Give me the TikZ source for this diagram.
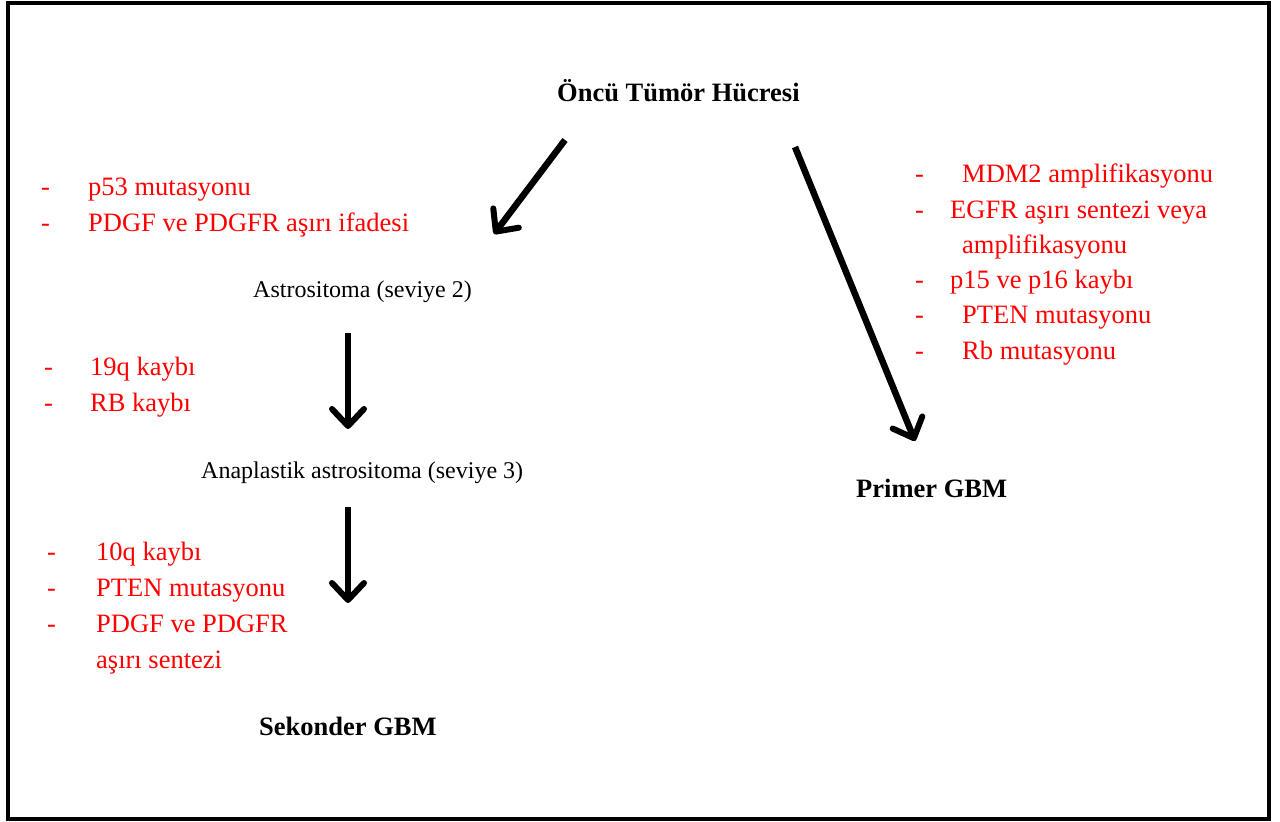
\documentclass[tikz,border=0pt]{standalone}
\usepackage{fontspec}
\setmainfont{Liberation Serif}
\usetikzlibrary{arrows.meta,positioning}

\begin{document}
\begin{tikzpicture}[x=1pt,y=-1pt,inner sep=0pt,
    bigarrow/.style={line width=6.5pt,-{Straight Barb[length=17pt,width=32pt,line width=6pt,round]}},
    headtext/.style={anchor=base west,font=\fontsize{26.5}{30}\selectfont\bfseries},
    stagetext/.style={anchor=base west,font=\fontsize{24}{28}\selectfont},
    genetext/.style={anchor=base west,text=red,font=\fontsize{26.5}{30}\selectfont}]
  \useasboundingbox (0,0) rectangle (1280,822);
  \draw[line width=4pt] (8,3) rectangle (1269,819);

  % main stages
  \node[headtext]  (cell)   at (557,101) {Öncü Tümör Hücresi};
  \node[stagetext] (astro)  at (253,297) {Astrositoma (seviye 2)};
  \node[stagetext] (ana)    at (201,478) {Anaplastik astrositoma (seviye 3)};
  \node[headtext]  (second) at (259,735) {Sekonder GBM};
  \node[headtext]  (primer) at (856,497) {Primer GBM};

  % changes, left side
  \node[genetext] (d1) at (41,195) {-};
  \node[genetext] (p53) at (88,195) {p53 mutasyonu};
  \node[genetext] (d2) at (41,231) {-};
  \node[genetext] (pdgf) at (88,231) {PDGF ve PDGFR aşırı ifadesi};
  \node[genetext] (d3) at (44,375) {-};
  \node[genetext] (q19) at (90,375) {19q kaybı};
  \node[genetext] (d4) at (44,411) {-};
  \node[genetext] (rb) at (90,411) {RB kaybı};
  \node[genetext] (d5) at (47,560) {-};
  \node[genetext] (q10) at (96,560) {10q kaybı};
  \node[genetext] (d6) at (47,596) {-};
  \node[genetext] (pten) at (96,596) {PTEN mutasyonu};
  \node[genetext] (d7) at (47,632) {-};
  \node[genetext] (pdgfb) at (96,632) {PDGF ve PDGFR};
  \node[genetext] (sent) at (96,668) {aşırı sentezi};

  % changes, right side
  \node[genetext] (d8) at (915,182) {-};
  \node[genetext] (mdm) at (962,182) {MDM2 amplifikasyonu};
  \node[genetext] (d9) at (915,218) {-};
  \node[genetext] (egfr) at (950,218) {EGFR aşırı sentezi veya};
  \node[genetext] (amp) at (962,253) {amplifikasyonu};
  \node[genetext] (d10) at (915,288) {-};
  \node[genetext] (p15) at (950,288) {p15 ve p16 kaybı};
  \node[genetext] (d11) at (915,323) {-};
  \node[genetext] (ptenr) at (962,323) {PTEN mutasyonu};
  \node[genetext] (d12) at (915,359) {-};
  \node[genetext] (rbr) at (962,359) {Rb mutasyonu};

  % arrow ends
  \coordinate (a1) at (565,140);
  \coordinate (b1) at (494,234);
  \coordinate (a2) at (795,147);
  \coordinate (b2) at (915,441);
  \coordinate (a3) at (348,333);
  \coordinate (b3) at (348,429);
  \coordinate (a4) at (348,507);
  \coordinate (b4) at (348,603);

  \path (a1) edge[bigarrow] (b1)
        (a2) edge[bigarrow] (b2)
        (a3) edge[bigarrow] (b3)
        (a4) edge[bigarrow] (b4);
\end{tikzpicture}
\end{document}
